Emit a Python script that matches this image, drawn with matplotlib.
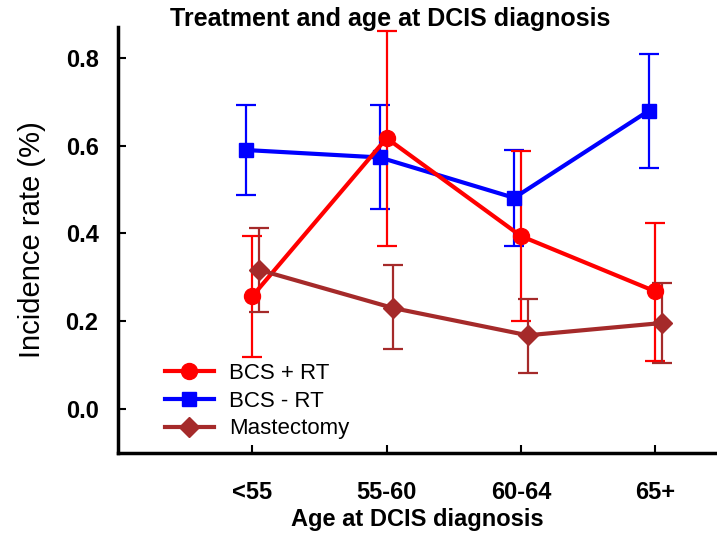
import matplotlib
matplotlib.use("Agg")
import matplotlib.pyplot as plt
import numpy as np

categories = ["<55", "55-60", "60-64", "65+"]

bcs_rt = [0.257, 0.617, 0.394, 0.268]
bcs_rt_lo = [0.118, 0.371, 0.200, 0.110]
bcs_rt_hi = [0.395, 0.860, 0.587, 0.423]

bcs_nort = [0.590, 0.573, 0.481, 0.679]
bcs_nort_lo = [0.487, 0.455, 0.372, 0.549]
bcs_nort_hi = [0.693, 0.693, 0.589, 0.808]

mast = [0.317, 0.230, 0.168, 0.196]
mast_lo = [0.222, 0.136, 0.083, 0.106]
mast_hi = [0.412, 0.328, 0.251, 0.288]

yticks = [0.0, 0.2, 0.4, 0.6, 0.8]

plt.rcParams['font.family'] = ['Liberation Sans', 'DejaVu Sans']

fig = plt.figure(figsize=(7.17, 5.41), dpi=100)
ax = fig.add_axes([0.1646, 0.1627, 0.8354, 0.7873])

x = np.arange(len(categories))
series = [
    (bcs_rt, bcs_rt_lo, bcs_rt_hi, 'red', 'o', 11.5, 0.0, "BCS + RT"),
    (bcs_nort, bcs_nort_lo, bcs_nort_hi, 'blue', 's', 10, -0.05, "BCS - RT"),
    (mast, mast_lo, mast_hi, '#a52a2a', 'D', 10, 0.05, "Mastectomy"),
]
order = [1, 0, 2]
handles = {}
for i in order:
    vals, lo, hi, col, mk, ms, off, lab = series[i]
    v = np.array(vals)
    yerr = [v - np.array(lo), np.array(hi) - v]
    ax.errorbar(x + off, v, yerr=yerr, fmt='none', ecolor=col, elinewidth=1.6,
                capsize=7, capthick=1.6, zorder=2)
    h, = ax.plot(x + off, v, color=col, marker=mk, markersize=ms, lw=3, zorder=3,
                 label=lab)
    handles[i] = h

ax.set_xlim(-1.0, 3.46)
ax.set_ylim(-0.1, 0.87)
ax.set_xticks(x)
ax.set_xticklabels(categories, fontsize=17, fontweight='bold')
ax.set_yticks(yticks)
ax.set_yticklabels([f"{t:.1f}" for t in yticks], fontsize=17, fontweight='bold')
ax.tick_params(axis='both', direction='in', length=6, width=1.5)
ax.tick_params(axis='x', pad=20)
ax.tick_params(axis='y', pad=14)
for s in ['top', 'right']:
    ax.spines[s].set_visible(False)
for s in ['left', 'bottom']:
    ax.spines[s].set_linewidth(2.5)

ax.set_xlabel("Age at DCIS diagnosis", fontsize=17, fontweight='bold', labelpad=3)
ax.set_ylabel("Incidence rate (%)", fontsize=21, labelpad=14)

fig.text(390 / 717, 1 - 19 / 541, "Treatment and age at DCIS diagnosis",
         ha='center', va='center', fontsize=18, fontweight='bold')

ax.legend([handles[0], handles[1], handles[2]], ["BCS + RT", "BCS - RT", "Mastectomy"],
          loc='lower left', bbox_to_anchor=(0.045, -0.015), frameon=False, fontsize=16,
          handlelength=2.2, labelspacing=0.3, handletextpad=0.7)

fig.savefig("out.png", dpi=100)
